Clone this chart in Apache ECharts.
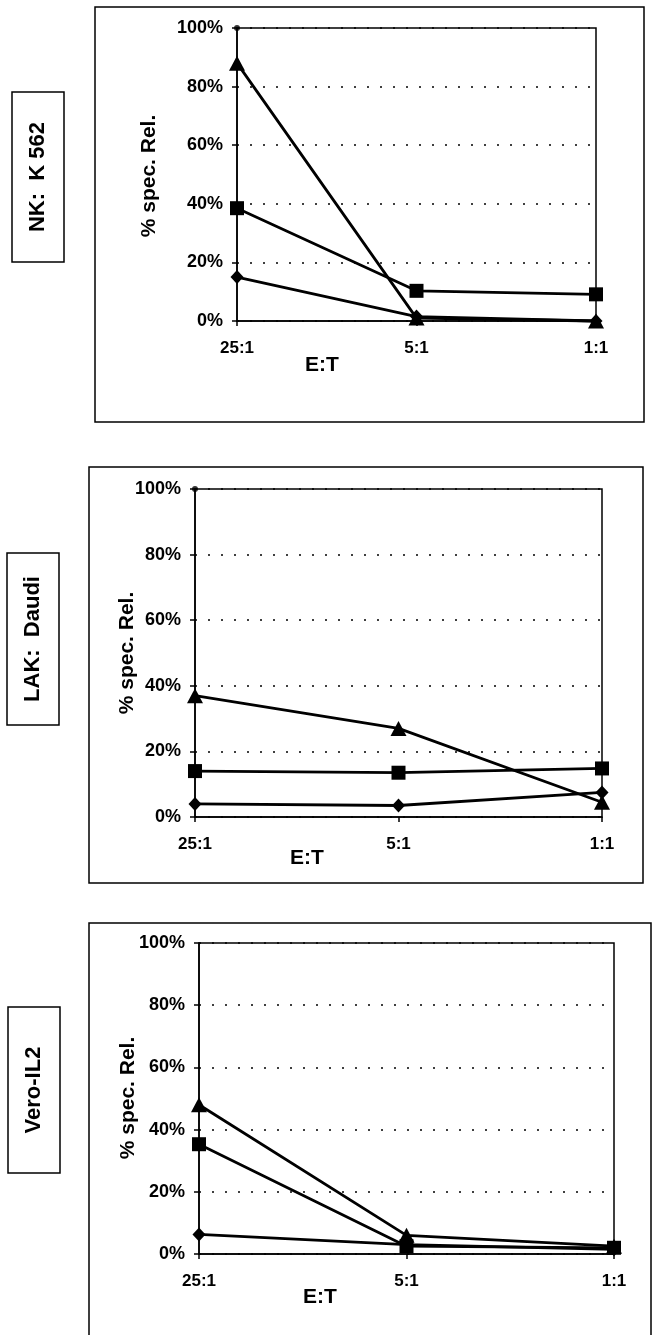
<!DOCTYPE html>
<html>
<head>
<meta charset="utf-8">
<script src="https://cdn.jsdelivr.net/npm/echarts@6/dist/echarts.min.js"></script>
<style>
  html, body { margin: 0; padding: 0; background: #fff; }
  #chart { width: 652px; height: 1335px; }
</style>
</head>
<body>
<div id="chart"></div>
<script>
// Effector:target ratios (shared by all three assays)
const ratios = ['25:1', '5:1', '1:1'];
const yTicks = [0, 20, 40, 60, 80, 100];

// NK cells vs. K 562 targets (% specific release)
const nkDiamond  = [15, 1.5, 0];
const nkSquare   = [38.5, 10.3, 9.1];
const nkTriangle = [88, 1, 0];
const nkTop      = [100, null, null];

// LAK cells vs. Daudi targets
const lakDiamond  = [4, 3.5, 7.5];
const lakSquare   = [14, 13.5, 14.8];
const lakTriangle = [37, 27, 4.5];
const lakTop      = [100, null, null];

// Vero-IL2
const veroDiamond  = [6.3, 3, 1.5];
const veroSquare   = [35.3, 2.5, 2];
const veroTriangle = [48, 6, 2.5];

const panelTitles = ['NK:  K 562', 'LAK:  Daudi', 'Vero-IL2'];
const yTitle = '% spec. Rel.';
const xTitle = 'E:T';

const FONT = '"Liberation Sans", Arial, Helvetica, sans-serif';

// plot-area geometry of each panel
const grids = [
  { left: 237, top: 28,  width: 359, height: 293 },
  { left: 195, top: 489, width: 407, height: 328 },
  { left: 199, top: 943, width: 415, height: 311 }
];

// outer frames, side label frames, and text placements
const frames = [
  { x: 95, y: 7,   w: 549, h: 415 },
  { x: 89, y: 467, w: 554, h: 416 },
  { x: 89, y: 923, w: 562, h: 420 }
];
const sideBoxes = [
  { x: 12, y: 92,   w: 52, h: 170 },
  { x: 7,  y: 553,  w: 52, h: 172 },
  { x: 8,  y: 1007, w: 52, h: 166 }
];
const yTitlePos = [ [149, 176], [127, 653], [128, 1098] ];
const xTitlePos = [ [322, 365], [307, 858], [320, 1297] ];

const groups = [
  { diamond: nkDiamond,   square: nkSquare,   triangle: nkTriangle,   top: nkTop },
  { diamond: lakDiamond,  square: lakSquare,  triangle: lakTriangle,  top: lakTop },
  { diamond: veroDiamond, square: veroSquare, triangle: veroTriangle, top: null }
];

const chart = echarts.init(document.getElementById('chart'), null, { renderer: 'canvas' });

const gridOpt = grids.map(g => ({
  left: g.left, top: g.top, width: g.width, height: g.height,
  show: true, borderColor: '#000', borderWidth: 1.5, backgroundColor: 'transparent',
  containLabel: false
}));

const xAxes = grids.map((g, i) => ({
  type: 'category', gridIndex: i, data: ratios, boundaryGap: false,
  axisLine: { show: true, lineStyle: { color: '#000', width: 1.5 } },
  axisTick: { show: true, length: 5, alignWithLabel: true, lineStyle: { color: '#000', width: 1.5 } },
  axisLabel: { color: '#000', fontFamily: FONT, fontWeight: 'bold', fontSize: 17, margin: 19 },
  splitLine: { show: false }
}));

const yAxes = grids.map((g, i) => ({
  type: 'value', gridIndex: i, min: yTicks[0], max: yTicks[yTicks.length - 1], interval: 20,
  axisLine: { show: true, lineStyle: { color: '#000', width: 1.5 } },
  axisTick: { show: true, length: 5, lineStyle: { color: '#000', width: 1.5 } },
  axisLabel: { color: '#000', fontFamily: FONT, fontWeight: 'bold', fontSize: 18, margin: 14,
               formatter: v => v + '%' },
  splitLine: { show: true, lineStyle: { color: '#000', width: 1.5, type: [2, 11] } }
}));

const lineBase = {
  type: 'line', symbolKeepAspect: true,
  lineStyle: { color: '#000', width: 2.8 },
  itemStyle: { color: '#000', borderWidth: 0 },
  emphasis: { disabled: true }, silent: true, animation: false, clip: false, z: 3
};

const series = [];
groups.forEach((grp, i) => {
  series.push(Object.assign({}, lineBase, {
    name: 'diamond' + i, xAxisIndex: i, yAxisIndex: i, data: grp.diamond,
    symbol: 'diamond', symbolSize: [13, 14]
  }));
  series.push(Object.assign({}, lineBase, {
    name: 'square' + i, xAxisIndex: i, yAxisIndex: i, data: grp.square,
    symbol: 'rect', symbolSize: 14
  }));
  series.push(Object.assign({}, lineBase, {
    name: 'triangle' + i, xAxisIndex: i, yAxisIndex: i, data: grp.triangle,
    symbol: 'triangle', symbolSize: [16, 15]
  }));
  if (grp.top) {
    series.push({
      type: 'scatter', name: 'top' + i, xAxisIndex: i, yAxisIndex: i, data: grp.top,
      symbol: 'circle', symbolSize: 6, itemStyle: { color: '#000' },
      silent: true, animation: false, clip: false, z: 4
    });
  }
});

const graphic = [];
frames.forEach(f => {
  graphic.push({
    type: 'rect', shape: { x: f.x, y: f.y, width: f.w, height: f.h },
    style: { fill: 'none', stroke: '#000', lineWidth: 1.5 }, silent: true, z: 1
  });
});
sideBoxes.forEach((b, i) => {
  graphic.push({
    type: 'rect', shape: { x: b.x, y: b.y, width: b.w, height: b.h },
    style: { fill: 'none', stroke: '#000', lineWidth: 1.5 }, silent: true, z: 1
  });
  graphic.push({
    type: 'text', x: b.x + b.w / 2, y: b.y + b.h / 2, rotation: Math.PI / 2,
    style: { text: panelTitles[i], fill: '#000', font: 'bold 22px ' + FONT,
             align: 'center', verticalAlign: 'middle' },
    silent: true, z: 2
  });
});
yTitlePos.forEach(p => {
  graphic.push({
    type: 'text', x: p[0], y: p[1], rotation: Math.PI / 2,
    style: { text: yTitle, fill: '#000', font: 'bold 21px ' + FONT,
             align: 'center', verticalAlign: 'middle' },
    silent: true, z: 2
  });
});
xTitlePos.forEach(p => {
  graphic.push({
    type: 'text', x: p[0], y: p[1],
    style: { text: xTitle, fill: '#000', font: 'bold 21px ' + FONT,
             align: 'center', verticalAlign: 'middle' },
    silent: true, z: 2
  });
});

chart.setOption({
  backgroundColor: '#fff',
  animation: false,
  grid: gridOpt,
  xAxis: xAxes,
  yAxis: yAxes,
  series: series,
  graphic: graphic
});
</script>
</body>
</html>
